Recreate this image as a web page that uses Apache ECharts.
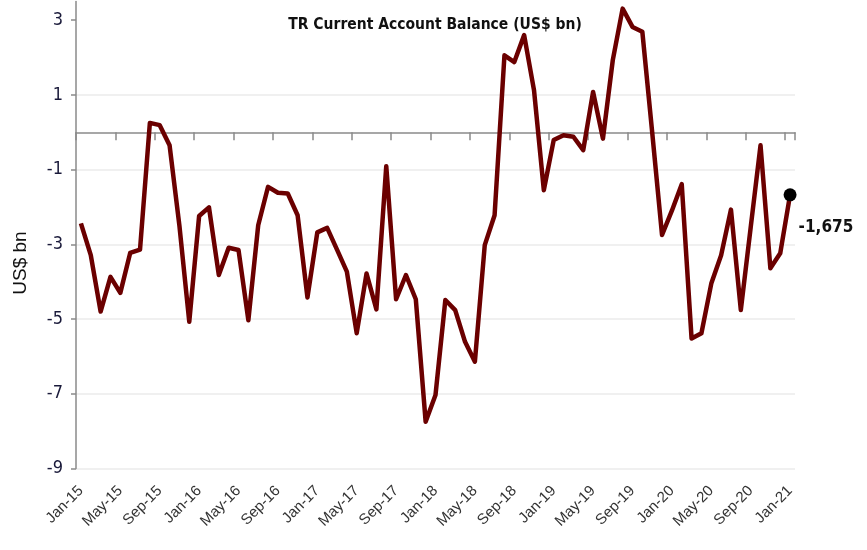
<!DOCTYPE html>
<html>
<head>
<meta charset="utf-8">
<script src="https://cdn.jsdelivr.net/npm/echarts@6/dist/echarts.min.js"></script>
<style>
  html, body { margin: 0; padding: 0; background: #fff; }
  #chart { width: 867px; height: 550px; }
</style>
</head>
<body>
<div id="chart"></div>
<script>
// Monthly categories Jan-15 .. Jan-21
const months = ['Jan','Feb','Mar','Apr','May','Jun','Jul','Aug','Sep','Oct','Nov','Dec'];
const categories = [];
for (let y = 15; y <= 21; y++) {
  for (let m = 0; m < 12; m++) {
    if (y === 21 && m > 0) break;
    categories.push(months[m] + '-' + y);
  }
}

// Current account balance, US$ bn
const balance = [
  -2.44, -3.29, -4.80, -3.87, -4.30, -3.23, -3.14, 0.25, 0.19, -0.35, -2.5, -5.07,
  -2.24, -2.01, -3.82, -3.09, -3.15, -5.03, -2.49, -1.46, -1.62, -1.64, -2.22, -4.42,
  -2.68, -2.56, -3.14, -3.73, -5.38, -3.78, -4.74, -0.91, -4.47, -3.82, -4.47, -7.75,
  -7.03, -4.49, -4.76, -5.61, -6.14, -3.02, -2.22, 2.06, 1.88, 2.60, 1.13, -1.55,
  -0.21, -0.08, -0.12, -0.48, 1.08, -0.17, 1.93, 3.31, 2.82, 2.69, 0.0, -2.75,
  -2.1, -1.39, -5.52, -5.38, -4.05, -3.29, -2.07, -4.76, -2.55, -0.35, -3.64, -3.24,
  -1.675
];

const yTicks = [-9, -7, -5, -3, -1, 1, 3];
const titleText = 'TR Current Account Balance (US$ bn)';
const lastLabel = '-1,675';

const NARROW = "'DejaVu Sans Condensed', 'Liberation Sans Narrow', 'Roboto Condensed', sans-serif";

const seriesData = balance.map((v, i) => {
  if (i === balance.length - 1) {
    return {
      value: v,
      symbol: 'circle',
      symbolSize: 13,
      itemStyle: { color: '#000' },
      label: {
        show: true,
        position: 'right',
        distance: 2,
        offset: [0, 33],
        formatter: lastLabel,
        fontFamily: NARROW,
        fontWeight: 'bold',
        fontSize: 17,
        color: '#111'
      }
    };
  }
  return { value: v, symbol: 'none' };
});

const chart = echarts.init(document.getElementById('chart'), null, { renderer: 'canvas' });
chart.setOption({
  animation: false,
  backgroundColor: '#fff',
  title: {
    text: titleText,
    left: 430,
    textAlign: 'center',
    top: 12,
    textStyle: {
      fontFamily: NARROW,
      fontWeight: 'bold',
      fontSize: 15.5,
      color: '#111'
    }
  },
  grid: { left: 76, right: 72, top: 1.5, height: 467, containLabel: false },
  xAxis: [
    {
      type: 'category',
      data: categories,
      boundaryGap: true,
      position: 'bottom',
      axisLine: { show: false, onZero: false },
      axisTick: { show: false },
      splitLine: { show: false },
      axisLabel: {
        interval: 3,
        rotate: 45,
        margin: 20,
        fontFamily: 'Liberation Sans',
        fontSize: 15,
        color: '#333'
      }
    },
    {
      type: 'category',
      data: categories,
      boundaryGap: true,
      position: 'bottom',
      axisLine: { show: true, onZero: true, lineStyle: { color: '#8a8a8a', width: 1.5 } },
      axisTick: { show: true, interval: 3, length: 8, lineStyle: { color: '#8a8a8a', width: 1.5 } },
      axisLabel: { show: false },
      splitLine: { show: false }
    }
  ],
  yAxis: {
    type: 'value',
    min: -9,
    max: 3.5,
    interval: 2,
    name: 'US$ bn',
    nameLocation: 'middle',
    nameGap: 46,
    nameRotate: 90,
    nameTextStyle: {
      fontFamily: 'Liberation Sans',
      fontSize: 19,
      color: '#111',
      padding: [0, 56, 0, 0]
    },
    axisLine: { show: true, lineStyle: { color: '#8a8a8a', width: 1.5 } },
    axisTick: { show: true, length: 5, customValues: yTicks, lineStyle: { color: '#8a8a8a', width: 1.5 } },
    axisLabel: {
      customValues: yTicks,
      margin: 13,
      fontFamily: NARROW,
      fontSize: 18,
      color: '#1a1a3a'
    },
    splitLine: { show: true, showMaxLine: false, lineStyle: { color: '#ebebeb', width: 1.5 } }
  },
  series: [
    {
      type: 'line',
      xAxisIndex: 0,
      data: seriesData,
      showSymbol: true,
      lineStyle: { color: '#6b0000', width: 4.5, join: 'round' },
      itemStyle: { color: '#6b0000' },
      emphasis: { disabled: true },
      z: 3
    }
  ]
});
</script>
</body>
</html>
